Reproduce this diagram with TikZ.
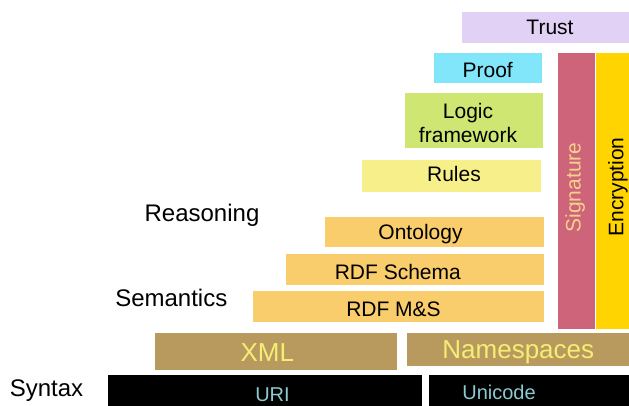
\documentclass[tikz,border=0pt]{standalone}
\usepackage{fontspec}
\setmainfont{Liberation Sans}

\definecolor{cTrust}{HTML}{E1D2F5}
\definecolor{cProof}{HTML}{82E6FA}
\definecolor{cLogic}{HTML}{CFE673}
\definecolor{cRules}{HTML}{F7F08A}
\definecolor{cOnto}{HTML}{F9CC6C}
\definecolor{cSig}{HTML}{CD6479}
\definecolor{cEnc}{HTML}{FFD400}
\definecolor{cXml}{HTML}{B89A5E}
\definecolor{cXmlText}{HTML}{F5EE74}
\definecolor{cUriText}{HTML}{8ACBD2}
\definecolor{cSigText}{HTML}{F6D18C}

\begin{document}
\begin{tikzpicture}[x=1pt,y=-1pt,
  layer/.style={draw=none, inner sep=0pt, anchor=north west},
  % node centre sits on the middle of the capital letters
  lbl/.style={inner sep=0pt, text height=15pt, text depth=0pt,
    font=\fontsize{21}{24}\selectfont},
  biglbl/.style={inner sep=0pt, text height=18.6pt, text depth=0pt,
    font=\fontsize{26}{30}\selectfont},
  smalllbl/.style={inner sep=0pt, text height=14.3pt, text depth=0pt,
    font=\fontsize{20}{24}\selectfont},
  side/.style={inner sep=0pt, text height=17.2pt, text depth=0pt,
    font=\fontsize{24}{28}\selectfont},
]
\useasboundingbox (0,0) rectangle (629,406);
\clip (0,0) rectangle (629,406);
\fill[white] (0,0) rectangle (629,406);

% layer boxes
\node[layer, fill=cTrust, minimum width=180pt, minimum height=31pt] (trust) at (462,12) {};
\node[layer, fill=cProof, minimum width=108pt, minimum height=30pt] (proof) at (434,53) {};
\node[layer, fill=cLogic, minimum width=138pt, minimum height=55pt] (logic) at (405,93) {};
\node[layer, fill=cRules, minimum width=179pt, minimum height=32pt] (rules) at (362,160) {};
\node[layer, fill=cOnto, minimum width=219pt, minimum height=30pt] (onto) at (325,217) {};
\node[layer, fill=cOnto, minimum width=258pt, minimum height=31pt] (rdfs) at (286,254) {};
\node[layer, fill=cOnto, minimum width=291pt, minimum height=31pt] (rdfms) at (253,291) {};
\node[layer, fill=cSig, minimum width=37pt, minimum height=276pt] (sig) at (557.5,53) {};
\node[layer, fill=cEnc, minimum width=40pt, minimum height=276pt] (enc) at (596,53) {};
\node[layer, fill=cXml, minimum width=242pt, minimum height=37pt] (xml) at (155,333) {};
\node[layer, fill=cXml, minimum width=230pt, minimum height=33pt] (ns) at (407,333) {};
\node[layer, fill=black, minimum width=314pt, minimum height=40pt] (uri) at (108,375) {};
\node[layer, fill=black, minimum width=210pt, minimum height=40pt] (uni) at (429,375) {};

% layer names
\node[lbl] (trusttxt) at (550,26.7) {Trust};
\node[lbl] (prooftxt) at (487.7,70.5) {Proof};
\node[inner sep=0pt, align=center, font=\fontsize{21}{24}\selectfont] (logictxt) at (468,122.5) {Logic\\framework};
\node[lbl] (rulestxt) at (454,174) {Rules};
\node[lbl] (ontotxt) at (420.5,232) {Ontology};
\node[lbl] (rdfstxt) at (397.8,272) {RDF Schema};
\node[lbl] (rdfmstxt) at (393.5,309) {RDF M\&S};
\node[lbl, rotate=90, text=cSigText] (sigtxt) at (573,187.5) {Signature};
\node[lbl, rotate=90] (enctxt) at (615.8,187) {Encryption};
\node[biglbl, text=cXmlText] (xmltxt) at (267.3,352.5) {XML};
\node[biglbl, text=cXmlText] (nstxt) at (518.3,349) {Namespaces};
\node[smalllbl, text=cUriText] (uritxt) at (272.5,394) {URI};
\node[smalllbl, text=cUriText] (unitxt) at (499,392.7) {Unicode};

% tier names on the left
\node[side] (reasoning) at (202,212.5) {Reasoning};
\node[side] (semantics) at (171.3,297.5) {Semantics};
\node[side] (syntax) at (46.5,388) {Syntax};
\end{tikzpicture}
\end{document}
